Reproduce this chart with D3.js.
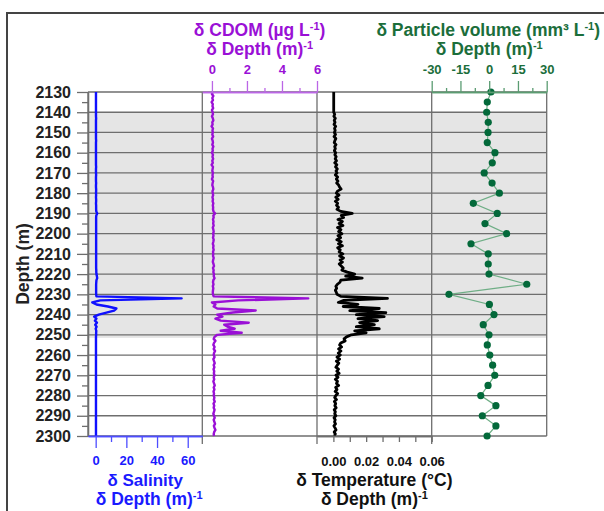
<!DOCTYPE html>
<html>
<head>
<meta charset="utf-8">
<script src="https://cdn.jsdelivr.net/npm/d3@7"></script>
<style>
  body { margin: 0; background: #fff; }
  svg { display: block; font-family: "Liberation Sans", Arial, sans-serif; font-weight: bold; }
</style>
</head>
<body>
<script>
// depth grid of the profiles, 1 m steps (2130 ... 2300)
const depths = d3.range(2130, 2301, 1);

// d Salinity / d Depth
const salinity = [
  0.2,0.2,0.2,0.2,0.2,0.2,0.2,0.2,0.2,0.2,
  0.2,0.2,0.2,0.3,0.2,0.2,0.2,0.2,0.2,0.2,
  0.2,0.2,0.2,0.2,0.3,0.2,0.2,0.2,0.2,0.2,
  0.2,0.2,0.2,0.2,0.2,0.2,0.2,0.3,0.2,0.2,
  0.2,0.3,0.2,0.2,0.2,0.3,0.2,0.2,0.3,0.3,
  0.2,0.3,0.2,0.3,0.3,0.2,0.3,0.3,0.3,0.4,
  1.0,0.4,0.3,0.3,0.3,0.3,0.3,0.3,0.3,0.3,
  0.3,0.3,0.3,0.3,0.3,0.3,0.3,0.3,0.3,0.3,
  0.3,0.3,0.3,0.3,0.3,0.3,0.3,0.3,0.4,0.4,
  0.5,0.8,1.0,0.5,0.4,0.3,0.3,0.3,0.3,0.3,
  0.3,0.5,56,3,-2.2,0.5,8,13.5,12,7,
  2,-1,0.5,-0.5,0.8,-0.3,0.6,0.0,0.4,0.3,
  0.3,0.2,0.2,0.2,0.2,0.2,0.2,0.2,0.2,0.2,
  0.2,0.2,0.2,0.2,0.2,0.2,0.2,0.2,0.2,0.2,
  0.2,0.2,0.2,0.2,0.2,0.2,0.2,0.2,0.2,0.2,
  0.2,0.2,0.2,0.2,0.2,0.2,0.2,0.2,0.2,0.2,
  0.2,0.2,0.2,0.2,0.2,0.2,0.2,0.2,0.2,0.2,
  0.2
];

// d CDOM / d Depth
const cdom = [
  0.05,0.0,0.08,0.02,0.06,-0.02,0.05,0.03,0.07,0.0,
  0.04,0.06,0.0,0.05,0.08,0.02,0.04,-0.02,0.06,0.03,
  0.05,0.02,0.07,0.0,0.04,0.06,0.02,0.08,0.03,0.05,
  0.0,0.06,0.03,0.07,0.02,0.05,-0.02,0.06,0.04,0.02,
  0.06,0.03,0.05,0.0,0.07,0.04,0.02,0.06,0.08,0.03,
  0.05,0.07,0.03,0.06,0.04,0.08,0.05,0.07,0.06,0.09,
  0.18,0.08,0.1,0.06,0.09,0.07,0.1,0.05,0.08,0.1,
  0.07,0.09,0.06,0.1,0.08,0.05,0.09,0.07,0.1,0.06,
  0.08,0.06,0.1,0.07,0.05,0.09,0.12,0.06,0.1,0.08,
  0.12,0.1,0.15,0.08,0.06,0.09,0.05,0.08,0.06,0.05,
  0.06,0.1,5.5,1.5,0.0,0.2,0.1,0.3,2.5,1.2,
  0.3,0.6,0.2,0.5,2.1,0.7,0.9,1.3,0.5,1.7,
  0.3,0.15,0.1,0.2,0.12,0.08,0.15,0.1,0.18,0.12,
  0.1,0.15,0.08,0.12,0.16,0.1,0.14,0.09,0.13,0.11,
  0.15,0.1,0.13,0.08,0.12,0.16,0.1,0.14,0.09,0.12,
  0.1,0.14,0.11,0.16,0.09,0.13,0.1,0.15,0.12,0.08,
  0.12,0.16,0.1,0.14,0.18,0.11,0.15,0.2,0.13,0.1,
  0.12
];

// d Temperature / d Depth
const temperature = [
  0.0002,0.0002,0.0002,0.0002,0.0002,0.0002,0.0002,0.0002,0.0002,0.0002,
  0.0002,0.0008,0.0003,0.0012,0.0005,0.001,0.0004,0.0014,0.0007,0.0011,
  0.0006,0.0013,0.0004,0.0015,0.0009,0.0005,0.0016,0.0008,0.0012,0.0006,
  0.0014,0.0009,0.0017,0.0011,0.0019,0.0008,0.0021,0.0013,0.0024,0.0016,
  0.0022,0.0012,0.0026,0.0018,0.0028,0.002,0.0032,0.0038,0.0047,0.0025,
  0.0018,0.0034,0.0015,0.0029,0.0012,0.0026,0.0019,0.0031,0.0022,0.0045,
  0.0115,0.0048,0.0062,0.0028,0.0055,0.0035,0.0058,0.0025,0.0046,0.0032,
  0.0052,0.0028,0.0044,0.0021,0.0048,0.0031,0.0055,0.0026,0.0042,0.0035,
  0.0058,0.0038,0.0062,0.0041,0.0055,0.0036,0.0048,0.006,0.0052,0.0085,
  0.013,0.0075,0.0176,0.0045,0.004,0.0025,0.0015,0.002,0.0012,0.0018,
  0.0022,0.0045,0.033,0.006,0.003,0.015,0.006,0.028,0.01,0.032,
  0.014,0.031,0.015,0.027,0.016,0.025,0.014,0.028,0.013,0.02,
  0.011,0.008,0.0065,0.0072,0.0045,0.0038,0.005,0.0032,0.0046,0.003,
  0.0042,0.0022,0.0038,0.0018,0.0033,0.0024,0.0015,0.0031,0.0021,0.0035,
  0.0016,0.0028,0.0012,0.0025,0.0019,0.0032,0.0014,0.0022,0.0011,0.0026,
  0.0015,0.0008,0.0019,0.0006,0.0014,0.0009,0.0017,0.0005,0.0012,0.0008,
  0.0015,0.0004,0.0011,0.0007,0.0013,0.0003,0.001,0.0016,0.0005,0.0012,
  0.0006
];

// d Particle volume / d Depth, every 5 m
const particleDepths = [2130,2135,2140,2145,2150,2155,2160,2165,2170,2175,2180,2185,2190,2195,2200,2205,2210,2215,2220,2225,2230,2235,2240,2245,2250,2255,2260,2265,2270,2275,2280,2285,2290,2295,2300];
const particle = [0.9,-1.0,-1.3,-0.5,-0.6,-1.0,3.0,1.6,-2.6,1.5,5.3,-8.3,4.2,-2.2,9.1,-9.5,-0.5,-0.5,-0.1,19.6,-21.0,0.1,2.5,-3.1,-0.1,-1.0,0.3,1.8,2.9,-0.6,-4.4,3.5,-3.6,3.5,-1.1];

// tick values
const depthTicks = [2130,2140,2150,2160,2170,2180,2190,2200,2210,2220,2230,2240,2250,2260,2270,2280,2290,2300];
const depthMinor = [2135,2145,2155,2165,2175,2185,2195,2205,2215,2225,2235,2245,2255,2265,2275,2285,2295];
const salTicks = [0,20,40,60], salMinor = [10,30,50];
const cdomTicks = [0,2,4,6], cdomMinor = [1,3,5];
const tempTicks = [0,0.02,0.04,0.06], tempMinor = [0.01,0.03,0.05];
const partTicks = [-30,-15,0,15,30], partMinor = [-22.5,-7.5,7.5,22.5];

// shaded depth band
const shadeBand = [2140, 2251.5];

const W = 604, H = 511;
const plotTop = 92, plotBottom = 436;
const edges = [88, 202.3, 317, 431.7, 546.7];

const svg = d3.select("body").append("svg").attr("width", W).attr("height", H);

// outer frame
svg.append("rect").attr("x", 7).attr("y", 13).attr("width", 700).attr("height", 600)
  .attr("fill", "none").attr("stroke", "#444").attr("stroke-width", 2);

const y = d3.scaleLinear().domain([2130, 2300]).range([plotTop, plotBottom]);
const xSal = d3.scaleLinear().domain([-5, 69.5]).range([edges[0], edges[1]]);
const xCdom = d3.scaleLinear().domain([-0.55, 6]).range([edges[1], edges[2]]);
const xTemp = d3.scaleLinear().domain([-0.01, 0.06]).range([edges[2], edges[3]]);
const xPart = d3.scaleLinear().domain([-30, 30]).range([edges[3], edges[4]]);

// shaded band
svg.append("rect")
  .attr("x", edges[0]).attr("width", edges[4] - edges[0])
  .attr("y", y(shadeBand[0])).attr("height", y(shadeBand[1]) - y(shadeBand[0]))
  .attr("fill", "#e5e5e5");

// grid lines
svg.append("g").selectAll("line").data(depthTicks).join("line")
  .attr("x1", edges[0]).attr("x2", edges[4])
  .attr("y1", d => y(d)).attr("y2", d => y(d))
  .attr("stroke", "#6e6e6e").attr("stroke-width", 1.3);

// panel borders
svg.append("g").selectAll("line").data(edges).join("line")
  .attr("x1", d => d).attr("x2", d => d)
  .attr("y1", plotTop).attr("y2", (d, i) => (i === 0 || i === 4) ? plotBottom : plotBottom + 8)
  .attr("stroke", "#6e6e6e").attr("stroke-width", 1.3);

// axis helper: major ticks with labels, minor ticks in their own group
function addAxis(axisFn, scale, tx, ty, major, minor, majorLen, minorLen, pad, tickColor, textColor, fmt) {
  const gMinor = svg.append("g").attr("transform", `translate(${tx},${ty})`)
    .call(axisFn(scale).tickValues(minor).tickSize(minorLen).tickSizeOuter(0).tickFormat(""));
  const gMajor = svg.append("g").attr("transform", `translate(${tx},${ty})`)
    .call(axisFn(scale).tickValues(major).tickSize(majorLen).tickSizeOuter(0).tickPadding(pad)
      .tickFormat(fmt || (d => d)));
  [gMinor, gMajor].forEach(g => {
    g.selectAll("path").attr("stroke", tickColor).attr("stroke-width", 1.3);
    g.selectAll("line").attr("stroke", tickColor).attr("stroke-width", 1.3);
  });
  gMajor.selectAll("text").attr("font-size", 13).attr("font-weight", "bold").attr("fill", textColor)
    .attr("font-family", "Liberation Sans, Arial, sans-serif");
  return gMajor;
}

function title(x, y0, parts, color, size) {
  const t = svg.append("text").attr("x", x).attr("y", y0).attr("text-anchor", "middle")
    .attr("font-size", size || 17.5).attr("fill", color);
  parts.forEach(p => {
    if (p.sup) {
      t.append("tspan").attr("dy", -6.5).attr("font-size", 11).text(p.sup);
      t.append("tspan").attr("dy", 6.5).text(p.after || "");
    } else {
      t.append("tspan").text(p.t);
    }
  });
}

// depth axis
const yAxis = addAxis(d3.axisLeft, y, edges[0], 0, depthTicks, depthMinor, 11, 6, 6, "#6e6e6e", "#222", d3.format("d"));
yAxis.selectAll("text").attr("font-size", 16);

svg.append("text")
  .attr("transform", `translate(28.5,${(plotTop + plotBottom) / 2}) rotate(-90)`)
  .attr("text-anchor", "middle").attr("font-size", 17.5).attr("fill", "#222")
  .text("Depth (m)");

// profile lines
const profile = (vals, xs) => d3.line()
  .x((d, i) => xs(vals[i]))
  .y(d => y(d))(depths);

svg.append("path").attr("d", profile(salinity, xSal))
  .attr("fill", "none").attr("stroke", "#1010ff").attr("stroke-width", 2.4).attr("stroke-linejoin", "round");
svg.append("path").attr("d", profile(cdom, xCdom))
  .attr("fill", "none").attr("stroke", "#9a10d6").attr("stroke-width", 2.4).attr("stroke-linejoin", "round");
svg.append("path").attr("d", profile(temperature, xTemp))
  .attr("fill", "none").attr("stroke", "#000").attr("stroke-width", 2.8).attr("stroke-linejoin", "round");

// particle volume
const partLine = d3.line().x((d, i) => xPart(particle[i])).y(d => y(d));
svg.append("path").attr("d", partLine(particleDepths))
  .attr("fill", "none").attr("stroke", "#6fae86").attr("stroke-width", 1.2);
svg.append("g").selectAll("circle").data(particleDepths).join("circle")
  .attr("cx", (d, i) => xPart(particle[i])).attr("cy", d => y(d)).attr("r", 3.6)
  .attr("fill", "#03693a");

// salinity axis (bottom)
const salMid = (edges[0] + edges[1]) / 2;
addAxis(d3.axisBottom, xSal, 0, plotBottom, salTicks, salMinor, 12, 6, 8, "#4d4dff", "#1a1aff");
title(salMid, 486, [{t: "δ Salinity"}], "#1a1aff", 17);
title(salMid + 4, 505, [{t: "δ Depth (m)"}, {sup: "-1"}], "#1a1aff");

// temperature axis (bottom)
const tempMid = (edges[2] + edges[3]) / 2;
addAxis(d3.axisBottom, xTemp, 0, plotBottom, tempTicks, tempMinor, 6, 6, 15, "#6e6e6e", "#111", d3.format(".2f"));
title(tempMid, 486, [{t: "δ Temperature (°C)"}], "#111");
title(tempMid, 505, [{t: "δ Depth (m)"}, {sup: "-1"}], "#111");

// CDOM axis (top)
const cdomMid = (edges[1] + edges[2]) / 2;
addAxis(d3.axisTop, xCdom, 0, plotTop, cdomTicks, cdomMinor, 11, 4, 7, "#bb66e6", "#9a10d6");
title(cdomMid, 36, [{t: "δ CDOM (µg L"}, {sup: "-1", after: ")"}], "#9a10d6");
title(cdomMid, 55, [{t: "δ Depth (m)"}, {sup: "-1"}], "#9a10d6");

// particle axis (top)
const partMid = (edges[3] + edges[4]) / 2;
addAxis(d3.axisTop, xPart, 0, plotTop, partTicks, partMinor, 11, 4, 7, "#5b9c72", "#1b6e3b");
title(partMid - 1, 36, [{t: "δ Particle volume (mm³ L"}, {sup: "-1", after: ")"}], "#1b6e3b");
title(partMid, 55, [{t: "δ Depth (m)"}, {sup: "-1"}], "#1b6e3b");
</script>
</body>
</html>
